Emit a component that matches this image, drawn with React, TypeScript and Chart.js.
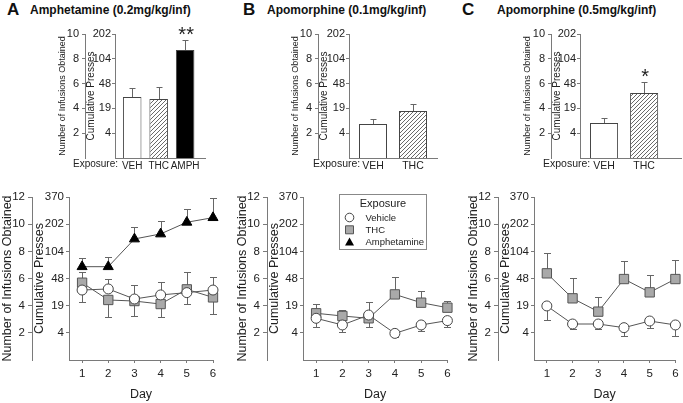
import React, { useEffect, useRef } from 'react';
import { Chart, registerables } from 'chart.js';
Chart.register(...registerables);

const FONT = "'Liberation Sans', Arial, Helvetica, sans-serif";
Chart.defaults.font.family = FONT;
Chart.defaults.color = '#222';

// ---------- text ----------
const panelLetters = ['A', 'B', 'C'];
const panelTitles = ['Amphetamine (0.2mg/kg/inf)', 'Apomorphine (0.1mg/kg/inf)', 'Apomorphine (0.5mg/kg/inf)'];
const exposureText = 'Exposure:';
const yTitleInfusions = 'Number of Infusions Obtained';
const yTitlePresses = 'Cumulative Presses';
const xTitleDay = 'Day';
const legendTitle = 'Exposure';
const legendNames = ['Vehicle', 'THC', 'Amphetamine'];

// ---------- ticks ----------
const infusionTicksTop = [2, 4, 6, 8, 10];
const infusionTicksBottom = [2, 4, 6, 8, 10, 12];
const pressLabels = ['4', '19', '48', '104', '202', '370'];
const days = [1, 2, 3, 4, 5, 6];

// ---------- top bar panels ----------
const barCatsA = ['VEH', 'THC', 'AMPH'];
const barValsA = [4.92, 4.76, 8.71];
const barErrsA = [0.73, 0.97, 0.81];
const barSigA = ['', '', '**'];

const barCatsB = ['VEH', 'THC'];
const barValsB = [2.74, 3.79];
const barErrsB = [0.4, 0.56];
const barSigB = ['', ''];

const barCatsC = ['VEH', 'THC'];
const barValsC = [2.82, 5.24];
const barErrsC = [0.41, 0.89];
const barSigC = ['', '*'];

// ---------- bottom line panels (value, error size, error direction) ----------
const vehA = [5.15, 5.23, 4.49, 4.79, 4.96, 5.15];
const vehAErr = [0.86, 0.73, 1.03, 0.93, 0.86, 0.93];
const vehADir = [-1, 1, 1, 1, -1, 1];
const thcA = [5.69, 4.42, 4.34, 4.12, 5.2, 4.61];
const thcAErr = [0.8, 1.28, 1.08, 0.98, 1.3, 1.25];
const thcADir = [1, -1, -1, -1, 1, -1];
const amphA = [6.87, 6.87, 8.91, 9.28, 10.14, 10.48];
const amphAErr = [0.62, 0.69, 0.91, 0.98, 0.96, 1.45];
const amphADir = [1, 1, 1, 1, 1, 1];

const vehB = [3.07, 2.58, 3.31, 1.96, 2.58, 2.9];
const vehBErr = [0.62, 0.49, 0.94, 0.3, 0.44, 0.49];
const vehBDir = [-1, -1, 1, -1, -1, -1];
const thcB = [3.44, 3.24, 3.07, 4.83, 4.22, 3.85];
const thcBErr = [0.68, 0.44, 0.62, 1.25, 0.86, 0.52];
const thcBDir = [1, 1, -1, 1, 1, 1];

const vehC = [3.98, 2.65, 2.65, 2.38, 2.87, 2.58];
const vehCErr = [1.03, 0.37, 0.37, 0.61, 0.49, 0.81];
const vehCDir = [-1, -1, -1, -1, -1, -1];
const thcC = [6.38, 4.54, 3.56, 5.96, 4.98, 5.96];
const thcCErr = [1.48, 1.47, 1.05, 1.33, 1.28, 1.4];
const thcCDir = [1, 1, 1, 1, 1, 1];

// ---------- styles ----------
const AXIS = '#7a7a7a';
const TEXT = '#222';
const ERR = '#666';
const LINE = '#555';
const THC_FILL = '#a9a9a9';

type Geo = {
  left: number; top: number; width: number; height: number;
  padL: number; padT: number; padR: number;
  outerW: number; innerW: number; xH: number;
};

function makeHatch(): any {
  const c = document.createElement('canvas');
  c.width = 4; c.height = 4;
  const g = c.getContext('2d');
  if (!g) return '#ddd';
  g.fillStyle = '#fff';
  g.fillRect(0, 0, 4, 4);
  g.strokeStyle = '#6a6a6a';
  g.lineWidth = 1;
  g.beginPath();
  g.moveTo(0, 4); g.lineTo(4, 0);
  g.moveTo(-1, 1); g.lineTo(1, -1);
  g.moveTo(3, 5); g.lineTo(5, 3);
  g.stroke();
  return g.createPattern(c, 'repeat') || '#ddd';
}

const errorBarsPlugin = {
  id: 'errorBars',
  beforeDatasetsDraw(chart: any) {
    const ctx = chart.ctx;
    chart.data.datasets.forEach((ds: any, di: number) => {
      if (!ds.errs) return;
      const meta = chart.getDatasetMeta(di);
      const ys = chart.scales[meta.yAxisID];
      const cap = ds.capW || 3.5;
      ctx.save();
      ctx.strokeStyle = ERR;
      ctx.lineWidth = 1;
      meta.data.forEach((el: any, i: number) => {
        const v = ds.data[i].y;
        const dir = ds.dirs ? ds.dirs[i] : 1;
        const x = Math.round(el.x) + 0.5;
        const y0 = ys.getPixelForValue(v);
        const y1 = Math.round(ys.getPixelForValue(v + dir * ds.errs[i])) + 0.5;
        ctx.beginPath();
        ctx.moveTo(x, y0);
        ctx.lineTo(x, y1);
        ctx.moveTo(x - cap, y1);
        ctx.lineTo(x + cap, y1);
        ctx.stroke();
      });
      ctx.restore();
    });
  },
  afterDatasetsDraw(chart: any) {
    const ctx = chart.ctx;
    chart.data.datasets.forEach((ds: any, di: number) => {
      if (!ds.sig) return;
      const meta = chart.getDatasetMeta(di);
      const ys = chart.scales[meta.yAxisID];
      ctx.save();
      ctx.fillStyle = '#222';
      ctx.font = `20px ${FONT}`;
      ctx.textAlign = 'center';
      ctx.textBaseline = 'alphabetic';
      meta.data.forEach((el: any, i: number) => {
        if (!ds.sig[i]) return;
        const v = ds.data[i].y + (ds.errs ? ds.errs[i] : 0);
        ctx.fillText(ds.sig[i], el.x + 1, ys.getPixelForValue(v) + 1);
      });
      ctx.restore();
    });
  },
};

const boxLegendPlugin = {
  id: 'boxLegend',
  afterDraw(chart: any, _args: any, opts: any) {
    if (!opts || !opts.show) return;
    const ctx = chart.ctx;
    const ca = chart.chartArea;
    const bx = Math.round(ca.left + 36) + 0.5;
    const by = Math.round(ca.top - 3) + 0.5;
    const bw = 87;
    const bh = 55;
    ctx.save();
    ctx.fillStyle = '#fff';
    ctx.fillRect(bx, by, bw, bh);
    ctx.strokeStyle = '#888';
    ctx.lineWidth = 1;
    ctx.strokeRect(bx, by, bw, bh);
    ctx.fillStyle = TEXT;
    ctx.textBaseline = 'middle';
    ctx.textAlign = 'center';
    ctx.font = `11px ${FONT}`;
    ctx.fillText(legendTitle, bx + bw / 2, by + 9);
    ctx.textAlign = 'left';
    ctx.font = `9.5px ${FONT}`;
    legendNames.forEach((name, i) => {
      const cy = by + 23 + i * 12.3;
      const mx = bx + 10;
      ctx.beginPath();
      if (i === 0) {
        ctx.arc(mx, cy, 4.3, 0, Math.PI * 2);
        ctx.fillStyle = '#fff';
        ctx.fill();
        ctx.strokeStyle = '#444';
        ctx.stroke();
      } else if (i === 1) {
        ctx.rect(mx - 4, cy - 4, 8, 8);
        ctx.fillStyle = THC_FILL;
        ctx.fill();
        ctx.strokeStyle = '#555';
        ctx.stroke();
      } else {
        ctx.moveTo(mx, cy - 4.5);
        ctx.lineTo(mx + 4.5, cy + 3.5);
        ctx.lineTo(mx - 4.5, cy + 3.5);
        ctx.closePath();
        ctx.fillStyle = '#000';
        ctx.fill();
      }
      ctx.fillStyle = TEXT;
      ctx.fillText(name, bx + 26, cy + 0.5);
    });
    ctx.restore();
  },
};

function yAxes(ticksArr: number[], max: number, geo: Geo, big: boolean) {
  return {
    yOut: {
      type: 'linear', position: 'left', weight: 2, min: 0, max, offset: false,
      afterBuildTicks: (s: any) => { s.ticks = ticksArr.map((v) => ({ value: v })); },
      afterFit: (s: any) => { s.width = geo.outerW; },
      ticks: { font: { size: big ? 11.5 : 11 }, padding: 3, color: TEXT },
      grid: { drawOnChartArea: false, tickLength: big ? 4 : 3, color: AXIS, offset: false },
      border: { color: AXIS },
      title: { display: true, text: yTitleInfusions, font: { size: big ? 12.5 : 9 }, padding: 0, color: TEXT },
    },
    yIn: {
      type: 'linear', position: 'left', weight: 1, min: 0, max, offset: false,
      afterBuildTicks: (s: any) => { s.ticks = ticksArr.map((v) => ({ value: v })); },
      afterFit: (s: any) => { s.width = geo.innerW; },
      ticks: {
        font: { size: big ? 11.5 : 11 }, padding: big ? 2 : 1, color: TEXT,
        callback: (v: number) => pressLabels[ticksArr.indexOf(v)] ?? '',
      },
      grid: { drawOnChartArea: false, tickLength: 3, color: AXIS, offset: false },
      border: { color: AXIS },
      title: { display: true, text: yTitlePresses, font: { size: big ? 12.5 : 10 }, padding: 0, color: TEXT },
    },
  };
}

function barConfig(cats: string[], vals: number[], errs: number[], sig: string[], xMin: number, xMax: number, geo: Geo, labelSize: number, labelPad: number) {
  const hatch = makeHatch();
  const fills = cats.map((c) => (c === 'VEH' ? '#ffffff' : c === 'THC' ? hatch : '#000000'));
  return {
    type: 'bar',
    data: {
      datasets: [{
        data: vals.map((v, i) => ({ x: i, y: v })),
        backgroundColor: fills,
        borderColor: '#444',
        borderWidth: 1,
        barPercentage: 0.7,
        categoryPercentage: 1,
        xAxisID: 'x',
        yAxisID: 'yIn',
        errs, sig, capW: 3,
      }],
    },
    options: {
      responsive: false,
      animation: false,
      events: [],
      layout: { padding: { left: geo.padL, top: geo.padT, right: geo.padR, bottom: 0 } },
      plugins: { legend: { display: false }, tooltip: { enabled: false }, boxLegend: { show: false } },
      scales: {
        x: {
          type: 'linear', min: xMin, max: xMax, offset: false,
          afterBuildTicks: (s: any) => { s.ticks = cats.map((_, i) => ({ value: i })); },
          afterFit: (s: any) => { s.height = geo.xH; },
          ticks: { callback: (v: number) => cats[v] ?? '', font: { size: labelSize }, padding: labelPad, color: TEXT, autoSkip: false, maxRotation: 0 },
          grid: { drawOnChartArea: false, drawTicks: false, color: AXIS, offset: false },
          border: { color: AXIS },
        },
        ...yAxes(infusionTicksTop, 10, geo, false),
      },
    },
    plugins: [errorBarsPlugin, boxLegendPlugin],
  };
}

function seriesDs(kind: number, vals: number[], errs: number[], dirs: number[]) {
  const base: any = {
    data: days.map((d, i) => ({ x: d, y: vals[i] })),
    borderColor: LINE,
    borderWidth: 1,
    pointBorderWidth: 1,
    clip: false,
    xAxisID: 'x',
    yAxisID: 'yIn',
    errs, dirs, capW: 3.5,
  };
  if (kind === 0) {
    return { ...base, label: legendNames[0], pointStyle: 'circle', pointRadius: 5, pointBackgroundColor: '#fff', pointBorderColor: '#444' };
  }
  if (kind === 1) {
    return { ...base, label: legendNames[1], pointStyle: 'rect', pointRadius: 6.6, pointBackgroundColor: THC_FILL, pointBorderColor: '#555' };
  }
  return { ...base, label: legendNames[2], pointStyle: 'triangle', pointRadius: 5.8, pointBackgroundColor: '#000', pointBorderColor: '#000' };
}

function lineConfig(datasets: any[], geo: Geo, showLegend: boolean) {
  return {
    type: 'line',
    data: { datasets },
    options: {
      responsive: false,
      animation: false,
      events: [],
      layout: { padding: { left: geo.padL, top: geo.padT, right: geo.padR, bottom: 0 } },
      plugins: { legend: { display: false }, tooltip: { enabled: false }, boxLegend: { show: showLegend } },
      scales: {
        x: {
          type: 'linear', min: 0.5, max: 6,
          afterBuildTicks: (s: any) => { s.ticks = days.map((v) => ({ value: v })); },
          afterFit: (s: any) => { s.height = geo.xH; },
          ticks: { font: { size: 11.5 }, padding: 4, color: TEXT, autoSkip: false, maxRotation: 0 },
          grid: { drawOnChartArea: false, tickLength: 3, color: AXIS },
          border: { color: AXIS },
          title: { display: true, text: xTitleDay, font: { size: 12.5 }, padding: { top: 0, bottom: 1 }, color: TEXT },
        },
        ...yAxes(infusionTicksBottom, 12, geo, true),
      },
    },
    plugins: [errorBarsPlugin, boxLegendPlugin],
  };
}

function ChartBox({ geo, make }: { geo: Geo; make: () => any }) {
  const ref = useRef<HTMLCanvasElement>(null);
  useEffect(() => {
    if (!ref.current) return;
    const chart = new Chart(ref.current, make());
    return () => chart.destroy();
  }, []);
  return (
    <canvas
      ref={ref}
      width={geo.width}
      height={geo.height}
      style={{ position: 'absolute', left: geo.left, top: geo.top, width: geo.width, height: geo.height }}
    />
  );
}

const geoTopA: Geo = { left: 50, top: 20, width: 160, height: 160, padL: 7, padT: 14, padR: 5, outerW: 28, innerW: 30, xH: 22 };
const geoTopB: Geo = { left: 285, top: 20, width: 160, height: 160, padL: 5.6, padT: 14, padR: 8, outerW: 27.4, innerW: 31, xH: 22 };
const geoTopC: Geo = { left: 515, top: 20, width: 168, height: 160, padL: 7, padT: 14, padR: 2, outerW: 29, innerW: 29, xH: 22 };
const geoBotA: Geo = { left: 0, top: 185, width: 223, height: 218, padL: 0, padT: 12, padR: 10, outerW: 32, innerW: 37, xH: 43 };
const geoBotB: Geo = { left: 230, top: 185, width: 225, height: 218, padL: 5.5, padT: 12, padR: 7, outerW: 31.5, innerW: 36, xH: 43 };
const geoBotC: Geo = { left: 460, top: 185, width: 223, height: 218, padL: 6.5, padT: 12, padR: 4, outerW: 31.5, innerW: 36, xH: 43 };

const headerPos = [
  { letter: 7, title: 30 },
  { letter: 243, title: 267 },
  { letter: 462, title: 497 },
];
const exposureStyle = [
  { left: 73, size: 10 },
  { left: 313, size: 10.5 },
  { left: 543, size: 10.5 },
];

export default function App() {
  return (
    <div style={{ position: 'absolute', left: 0, top: 0, width: 683, height: 403, overflow: 'hidden', background: '#fff', fontFamily: FONT, color: TEXT }}>
      {panelLetters.map((l, i) => (
        <React.Fragment key={l}>
          <div style={{ position: 'absolute', left: headerPos[i].letter, top: 1, fontSize: 17, lineHeight: '17px', fontWeight: 'bold', color: '#111' }}>{l}</div>
          <div style={{ position: 'absolute', left: headerPos[i].title, top: 4, fontSize: 12, lineHeight: '12px', fontWeight: 'bold', color: '#111', whiteSpace: 'nowrap' }}>{panelTitles[i]}</div>
          <div style={{ position: 'absolute', left: exposureStyle[i].left, top: 157, fontSize: exposureStyle[i].size, lineHeight: '13px', whiteSpace: 'nowrap', zIndex: 2 }}>{exposureText}</div>
        </React.Fragment>
      ))}
      <ChartBox geo={geoTopA} make={() => barConfig(barCatsA, barValsA, barErrsA, barSigA, -0.65, 2.75, geoTopA, 10, 2)} />
      <ChartBox geo={geoTopB} make={() => barConfig(barCatsB, barValsB, barErrsB, barSigB, -0.6, 1.6, geoTopB, 10.5, 2)} />
      <ChartBox geo={geoTopC} make={() => barConfig(barCatsC, barValsC, barErrsC, barSigC, -0.6, 1.92, geoTopC, 10.5, 2)} />
      <ChartBox geo={geoBotA} make={() => lineConfig([seriesDs(0, vehA, vehAErr, vehADir), seriesDs(1, thcA, thcAErr, thcADir), seriesDs(2, amphA, amphAErr, amphADir)], geoBotA, false)} />
      <ChartBox geo={geoBotB} make={() => lineConfig([seriesDs(0, vehB, vehBErr, vehBDir), seriesDs(1, thcB, thcBErr, thcBDir)], geoBotB, true)} />
      <ChartBox geo={geoBotC} make={() => lineConfig([seriesDs(0, vehC, vehCErr, vehCDir), seriesDs(1, thcC, thcCErr, thcCDir)], geoBotC, false)} />
    </div>
  );
}
